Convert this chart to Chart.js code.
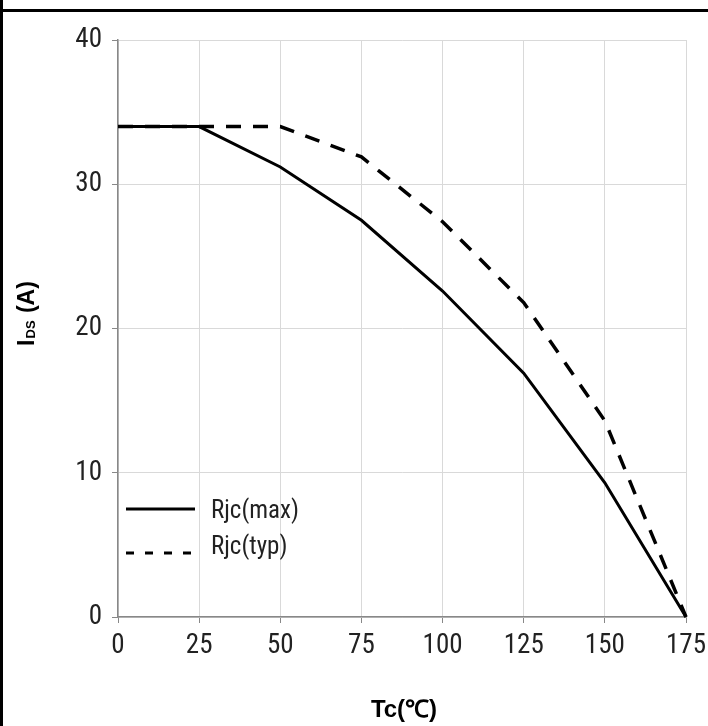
<!DOCTYPE html>
<html>
<head>
<meta charset="utf-8">
<script src="https://cdn.jsdelivr.net/npm/chart.js@4.4.1/dist/chart.umd.min.js"></script>
<style>
  body { margin: 0; background: #fff; }
  #wrap { position: relative; width: 708px; height: 726px; }
  #topline { position: absolute; left: 0; top: 9px; width: 708px; height: 3px; background: #000; }
  #leftline { position: absolute; left: 0; top: 0; width: 3px; height: 726px; background: #000; }
</style>
</head>
<body>
<div id="wrap">
  <canvas id="myChart" width="708" height="726"></canvas>
  <div id="topline"></div>
  <div id="leftline"></div>
</div>
<script>
// case temperature (deg C)
var tempC = [0, 25, 50, 75, 100, 125, 150, 175];
// drain current limits (A)
var rjcMax = [34, 34, 31.2, 27.5, 22.6, 16.9, 9.3, 0];
var rjcTyp = [34, 34, 34, 31.9, 27.4, 21.8, 13.6, 0];
var seriesNames = ["Rjc(max)", "Rjc(typ)"];
var xTicks = [0, 25, 50, 75, 100, 125, 150, 175];
var yTicks = [0, 10, 20, 30, 40];

var narrow = "'Liberation Sans Narrow', 'Roboto Condensed', 'Liberation Sans', Arial, sans-serif";
var bold = "'Liberation Sans', Arial, sans-serif";

function toPoints(vals) {
  return tempC.map(function(t, i) { return { x: t, y: vals[i] }; });
}

// titles and legend drawn on the canvas
var extras = {
  id: "extras",
  afterDatasetsDraw: function(chart) {
    var ctx = chart.ctx;
    var area = chart.chartArea;
    ctx.save();
    ctx.fillStyle = "#000";

    // y title: I with DS subscript, then (A)
    ctx.translate(34, (area.top + area.bottom) / 2 - 15);
    ctx.rotate(-Math.PI / 2);
    ctx.textBaseline = "alphabetic";
    ctx.textAlign = "left";
    var big = "bold 23px " + bold;
    var small = "bold 13px " + bold;
    ctx.font = big;
    var w1 = ctx.measureText("I").width;
    ctx.font = small;
    var w2 = ctx.measureText("DS").width;
    ctx.font = big;
    var w3 = ctx.measureText(" (A)").width;
    var start = -(w1 + w2 + 2 + w3) / 2;
    ctx.fillText("I", start, 0);
    ctx.font = small;
    ctx.fillText("DS", start + w1 + 1, 1);
    ctx.font = big;
    ctx.fillText(" (A)", start + w1 + w2 + 2, 0);
    ctx.restore();

    // x title
    ctx.save();
    ctx.fillStyle = "#000";
    ctx.font = "bold 24px " + bold;
    ctx.textAlign = "center";
    ctx.textBaseline = "alphabetic";
    ctx.fillText("Tc(\u2103)", (area.left + area.right) / 2 + 2, 717);
    ctx.restore();

    // legend
    ctx.save();
    var rows = [509, 553];
    chart.data.datasets.forEach(function(ds, i) {
      ctx.beginPath();
      ctx.strokeStyle = "#000";
      ctx.lineWidth = 3;
      ctx.setLineDash(i == 1 ? [8, 11] : []);
      ctx.moveTo(126, rows[i]);
      ctx.lineTo(195, rows[i]);
      ctx.stroke();
      ctx.setLineDash([]);
      ctx.fillStyle = "#222";
      ctx.font = "25px " + narrow;
      ctx.textAlign = "left";
      ctx.textBaseline = "middle";
      ctx.fillText(ds.label, 211, rows[i] + 3 - (i == 1 ? 8 : 0));
    });
    ctx.restore();
  }
};

var chart = new Chart(document.getElementById("myChart"), {
  type: "line",
  data: {
    datasets: [
      {
        label: seriesNames[0],
        data: toPoints(rjcMax),
        borderColor: "#000",
        borderWidth: 3,
        pointRadius: 0,
        tension: 0,
        clip: 6
      },
      {
        label: seriesNames[1],
        data: toPoints(rjcTyp),
        borderColor: "#000",
        borderWidth: 3.5,
        borderDash: [15, 12],
        pointRadius: 0,
        tension: 0,
        clip: 6
      }
    ]
  },
  options: {
    responsive: false,
    animation: false,
    layout: { padding: { left: 0, top: 40, right: 22, bottom: 0 } },
    plugins: {
      legend: { display: false },
      tooltip: { enabled: false }
    },
    scales: {
      x: {
        type: "linear",
        min: 0,
        max: 175,
        afterBuildTicks: function(scale) {
          scale.ticks = xTicks.map(function(v) { return { value: v }; });
        },
        afterFit: function(scale) {
          scale.height = 109;
          scale.paddingLeft = 0;
          scale.paddingRight = 0;
        },
        grid: { color: "#d9d9d9", lineWidth: 1, tickLength: 6, tickColor: "#888" },
        border: { color: "#888", width: 1.5 },
        ticks: {
          padding: 7,
          color: "#222",
          maxRotation: 0,
          font: { family: narrow, size: 27 }
        }
      },
      y: {
        min: 0,
        max: 40,
        afterBuildTicks: function(scale) {
          scale.ticks = yTicks.map(function(v) { return { value: v }; });
        },
        afterFit: function(scale) {
          scale.width = 118;
          scale.paddingTop = 0;
          scale.paddingBottom = 0;
        },
        grid: { color: "#d9d9d9", lineWidth: 1, tickLength: 6, tickColor: "#888" },
        border: { color: "#888", width: 1.5 },
        ticks: {
          padding: 10,
          color: "#222",
          font: { family: narrow, size: 27 }
        }
      }
    }
  },
  plugins: [extras]
});
</script>
</body>
</html>
